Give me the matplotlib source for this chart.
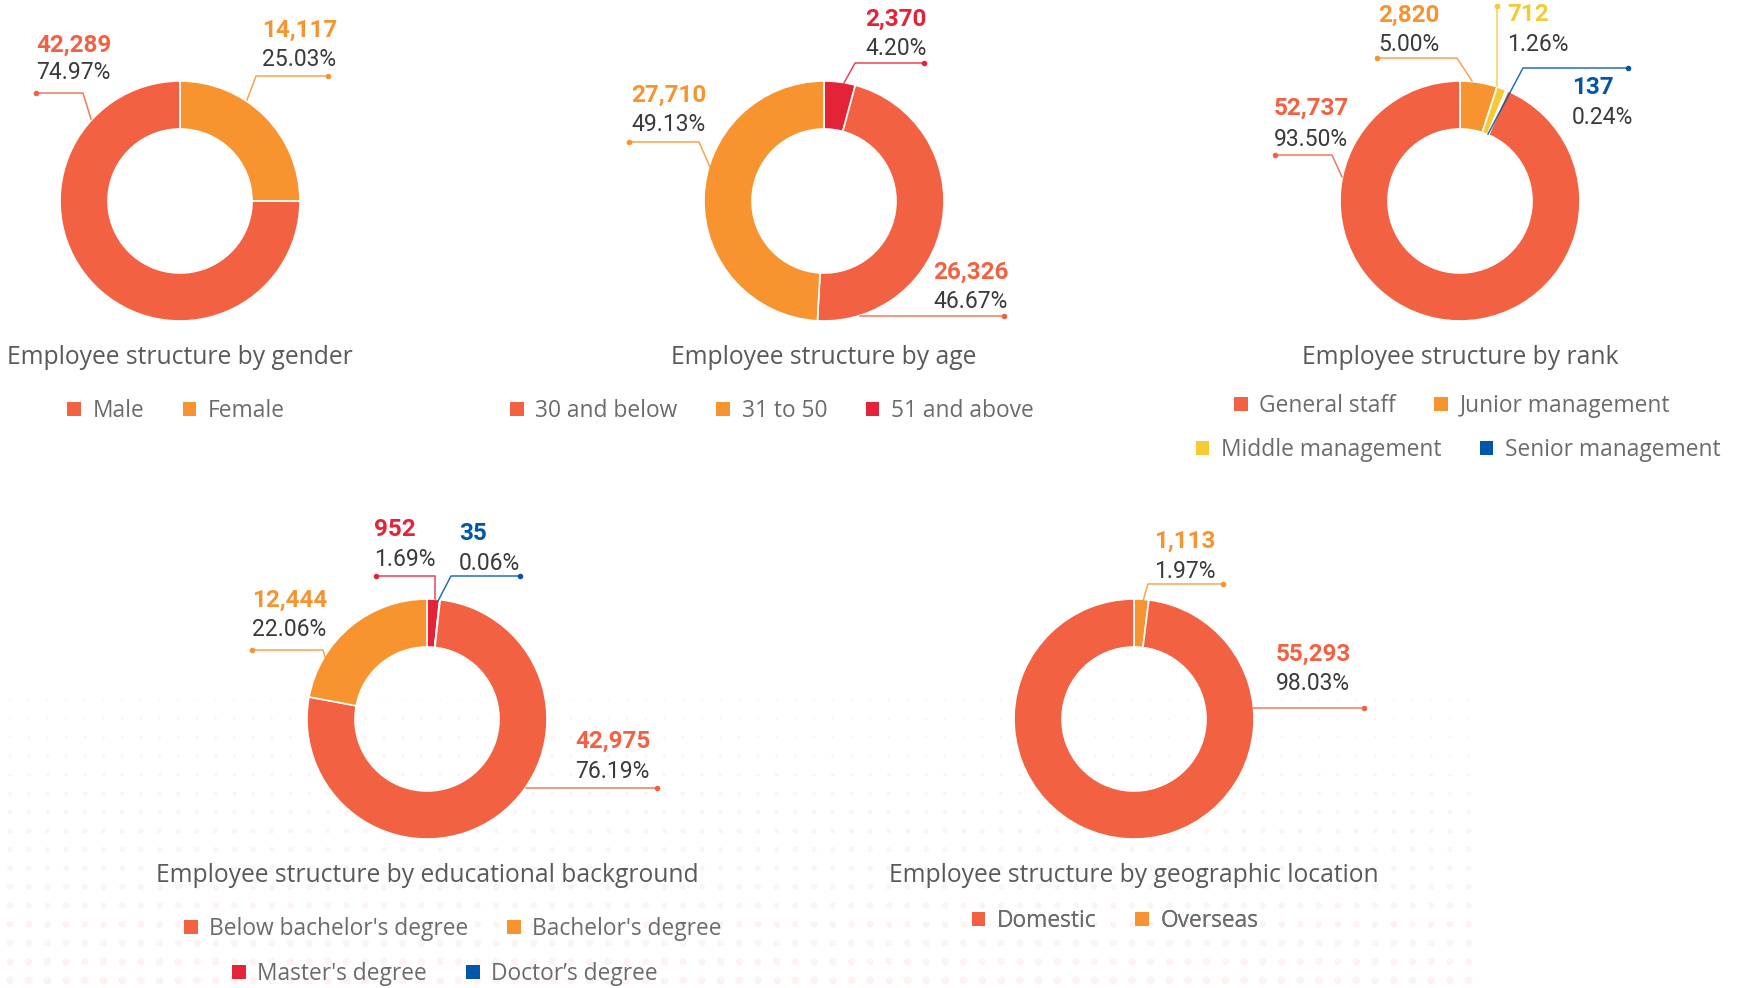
import matplotlib.pyplot as plt
from matplotlib.patches import Patch
import numpy as np

W, H = 1745, 988

RED = '#f26142'
ORANGE = '#f7942f'
CRIMSON = '#e42339'
YELLOW = '#f5ca35'
BLUE = '#0057aa'

PCT_COLOR = '#3a3a3a'
TITLE_COLOR = '#595959'
LEGEND_COLOR = '#6b6b6b'

# ---- data ----
gender_labels = ['Male', 'Female']
gender_counts = [42289, 14117]
gender_pcts = [74.97, 25.03]
gender_colors = [RED, ORANGE]

age_labels = ['30 and below', '31 to 50', '51 and above']
age_counts = [26326, 27710, 2370]
age_pcts = [46.67, 49.13, 4.20]
age_colors = [RED, ORANGE, CRIMSON]

rank_labels = ['General staff', 'Junior management', 'Middle management', 'Senior management']
rank_counts = [52737, 2820, 712, 137]
rank_pcts = [93.50, 5.00, 1.26, 0.24]
rank_colors = [RED, ORANGE, YELLOW, BLUE]

edu_labels = ["Below bachelor's degree", "Bachelor's degree", "Master's degree", "Doctor\u2019s degree"]
edu_counts = [42975, 12444, 952, 35]
edu_pcts = [76.19, 22.06, 1.69, 0.06]
edu_colors = [RED, ORANGE, CRIMSON, BLUE]

geo_labels = ['Domestic', 'Overseas']
geo_counts = [55293, 1113]
geo_pcts = [98.03, 1.97]
geo_colors = [RED, ORANGE]

# ---- layout (pixel coords, y downwards) ----
# label: slice index -> (text x, value y, pct y, leader points [dot first]) relative to centre
charts = [
    dict(title='Employee structure by gender', center=(180, 201), title_y=358,
         labels=gender_labels, counts=gender_counts, pcts=gender_pcts, colors=gender_colors,
         order=[1, 0],
         legend=[([0, 1], 176, 411)],
         ann={0: (-144, -156, -128, [(-144, -108), (-97, -108), (-89, -82)]),
              1: (82, -171, -141, [(148, -125), (76, -125), (67, -101)])}),
    dict(title='Employee structure by age', center=(824, 201), title_y=358,
         labels=age_labels, counts=age_counts, pcts=age_pcts, colors=age_colors,
         order=[2, 0, 1],
         legend=[([0, 1, 2], 772, 411)],
         ann={0: (109, 71, 100, [(180, 115), (36, 115)]),
              1: (-193, -106, -76, [(-195, -59), (-125, -59), (-114, -34)]),
              2: (41, -182, -152, [(100, -138), (31, -138), (20, -118)])}),
    dict(title='Employee structure by rank', center=(1460, 201), title_y=358,
         labels=rank_labels, counts=rank_counts, pcts=rank_pcts, colors=rank_colors,
         order=[1, 2, 3, 0],
         legend=[([0, 1], 1452, 406), ([2, 3], 1458, 450)],
         ann={0: (-186, -93, -61, [(-185, -46), (-128, -46), (-118, -24)]),
              1: (-82, -186, -156, [(-83, -143), (-3, -143), (12, -120)]),
              2: (47, -186, -156, [(37, -195), (37, -115)]),
              3: (112, -113, -83, [(168, -133), (63, -133), (28, -67)])}),
    dict(title='Employee structure by educational background', center=(427, 719), title_y=875,
         labels=edu_labels, counts=edu_counts, pcts=edu_pcts, colors=edu_colors,
         order=[2, 3, 0, 1],
         legend=[([0, 1], 453, 929), ([2, 3], 445, 974)],
         ann={0: (148, 22, 52, [(230, 69), (99, 69)]),
              1: (-175, -119, -90, [(-175, -69), (-104, -69), (-102, -62)]),
              2: (-53, -189, -160, [(-51, -143), (8, -143), (8, -120)]),
              3: (32, -186, -156, [(93, -143), (24, -143), (11, -118)])}),
    dict(title='Employee structure by geographic location', center=(1134, 719), title_y=875,
         labels=geo_labels, counts=geo_counts, pcts=geo_pcts, colors=geo_colors,
         order=[1, 0],
         legend=[([0, 1], 1115, 921)],
         ann={0: (142, -65, -35, [(230, -11), (118, -11)]),
              1: (20, -178, -148, [(89, -135), (14, -135), (9, -118)])}),
]

R_OUT, RING = 120, 48

fig = plt.figure(figsize=(W / 100, H / 100), dpi=100)
ax = fig.add_axes([0, 0, 1, 1])

# faint dotted backdrop along the bottom
gx = np.arange(10, 1480, 18.7)
gy = np.arange(700, H + 10, 18.7)
xx, yy = np.meshgrid(gx, gy)
rad = 1.0 + 3.0 * (yy - 700) / (H - 700)
ax.scatter(xx.ravel(), H - yy.ravel(), s=(1.44 * rad.ravel()) ** 2, color='#fdf3f0',
           linewidths=0, zorder=0)

for c in charts:
    cx, cy = c['center']
    order = c['order']
    ax.pie([c['counts'][i] for i in order], colors=[c['colors'][i] for i in order],
           startangle=90, counterclock=False, radius=R_OUT, center=(cx, H - cy),
           wedgeprops=dict(width=RING, edgecolor='white', linewidth=1.2), frame=True)

    for i, (tx, vy, py, pts) in c['ann'].items():
        col = c['colors'][i]
        ax.text(cx + tx, H - (cy + vy), f"{c['counts'][i]:,}", color=col, fontsize=17.5,
                fontweight='bold', family='Roboto', ha='left', va='center')
        ax.text(cx + tx, H - (cy + py), f"{c['pcts'][i]:.2f}%", color=PCT_COLOR, fontsize=16.5,
                family='Roboto', ha='left', va='center')
        lx = [cx + p[0] for p in pts]
        ly = [H - (cy + p[1]) for p in pts]
        ax.plot(lx, ly, color=col, lw=1.1, alpha=0.85, zorder=3)
        ax.plot(lx[0], ly[0], 'o', color=col, ms=3, zorder=3)

    ax.text(cx, H - c['title_y'], c['title'], color=TITLE_COLOR, fontsize=17.7,
            family='Open Sans', ha='center', va='center')

    for idx, lx0, ly0 in c['legend']:
        handles = [Patch(facecolor=c['colors'][i], edgecolor='none') for i in idx]
        leg = ax.legend(handles, [c['labels'][i] for i in idx], loc='center',
                        bbox_to_anchor=(lx0, H - ly0), bbox_transform=ax.transData,
                        ncol=len(idx), frameon=False, handlelength=0.6, handleheight=0.6,
                        handletextpad=0.5, columnspacing=1.7, borderpad=0, borderaxespad=0,
                        prop=dict(family='Open Sans', size=16.4), labelcolor=LEGEND_COLOR)
        ax.add_artist(leg)

ax.set_xlim(0, W)
ax.set_ylim(0, H)
ax.set_aspect('auto')
ax.axis('off')

fig.savefig('out.png', dpi=100, facecolor='white')
